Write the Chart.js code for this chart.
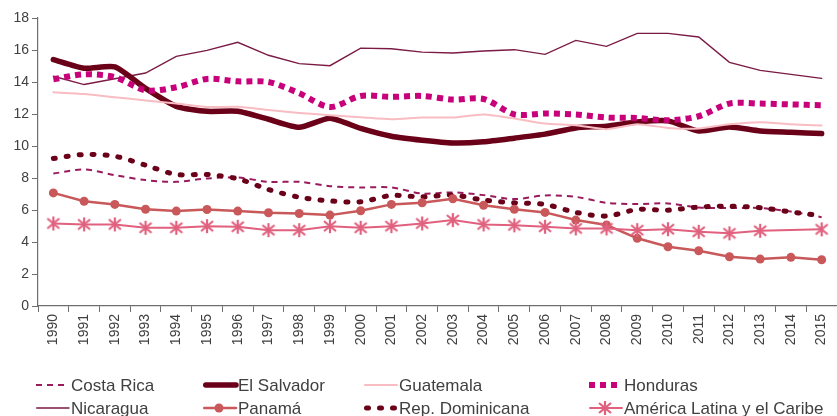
<!DOCTYPE html>
<html>
<head>
<meta charset="utf-8">
<script src="https://cdn.jsdelivr.net/npm/chart.js@4.4.1/dist/chart.umd.min.js"></script>
<style>
  html, body { margin: 0; padding: 0; background: #fff; overflow: hidden; }
  #wrap { width: 837px; height: 416px; position: relative; }
  canvas { display: block; }
</style>
</head>
<body>
<div id="wrap"><canvas id="tasa"></canvas></div>
<script>
// Years on the x axis
var years = ['1990','1991','1992','1993','1994','1995','1996','1997','1998','1999','2000','2001','2002',
             '2003','2004','2005','2006','2007','2008','2009','2010','2011','2012','2013','2014','2015'];

// Series values
var costaRica     = [8.28, 8.53, 8.18, 7.87, 7.76, 7.97, 8.03, 7.76, 7.76, 7.49, 7.41, 7.41, 7.03, 7.10, 6.93, 6.68, 6.91, 6.82, 6.45, 6.37, 6.41, 6.16, 6.12, 6.12, 5.90, 5.55];
var elSalvador    = [15.4, 14.86, 14.94, 13.6, 12.48, 12.17, 12.17, 11.67, 11.17, 11.73, 11.1, 10.61, 10.36, 10.19, 10.26, 10.49, 10.74, 11.13, 11.24, 11.5, 11.57, 10.94, 11.19, 10.94, 10.86, 10.78];
var guatemala     = [13.36, 13.25, 13.05, 12.85, 12.65, 12.44, 12.45, 12.25, 12.07, 11.92, 11.8, 11.67, 11.78, 11.78, 11.97, 11.72, 11.4, 11.3, 11.05, 11.36, 11.13, 11.09, 11.36, 11.49, 11.36, 11.28];
var honduras      = [14.17, 14.48, 14.3, 13.48, 13.67, 14.19, 14.04, 14.0, 13.3, 12.44, 13.13, 13.07, 13.13, 12.9, 12.94, 11.98, 12.03, 11.97, 11.78, 11.75, 11.61, 11.86, 12.65, 12.65, 12.6, 12.55];
var nicaragua     = [14.36, 13.84, 14.2, 14.56, 15.6, 15.98, 16.48, 15.67, 15.15, 15.02, 16.12, 16.08, 15.87, 15.81, 15.94, 16.02, 15.73, 16.6, 16.23, 17.04, 17.04, 16.81, 15.23, 14.73, 14.48, 14.23];
var panama        = [7.07, 6.55, 6.35, 6.05, 5.93, 6.03, 5.93, 5.83, 5.78, 5.68, 5.95, 6.35, 6.45, 6.7, 6.3, 6.05, 5.85, 5.37, 5.06, 4.23, 3.7, 3.45, 3.08, 2.93, 3.04, 2.89];
var repDominicana = [9.22, 9.47, 9.36, 8.8, 8.22, 8.22, 7.95, 7.28, 6.8, 6.57, 6.51, 6.91, 6.82, 6.93, 6.62, 6.45, 6.35, 5.85, 5.62, 6.03, 5.99, 6.18, 6.24, 6.14, 5.88, 5.64];
var americaLatina = [5.16, 5.1, 5.1, 4.89, 4.89, 4.99, 4.95, 4.74, 4.74, 4.99, 4.89, 4.99, 5.16, 5.37, 5.1, 5.04, 4.95, 4.85, 4.85, 4.74, 4.8, 4.64, 4.54, 4.7, null, 4.79];

var yTicks = [0, 2, 4, 6, 8, 10, 12, 14, 16, 18];

var textColor = '#404040';
var axisColor = '#6f6f6f';
var font = 'Liberation Sans, Arial, sans-serif';

// asterisk marker (vertical bar + X), like the spreadsheet's '*' marker
function makeAsterisk(color) {
    var c = document.createElement('canvas');
    c.width = 16; c.height = 16;
    var g = c.getContext('2d');
    g.strokeStyle = color;
    g.lineWidth = 2.2;
    g.beginPath();
    g.moveTo(8, 1); g.lineTo(8, 15);
    g.moveTo(2, 3); g.lineTo(14, 13);
    g.moveTo(14, 3); g.lineTo(2, 13);
    g.stroke();
    return c;
}
var asterisk = makeAsterisk('#e0607e');

function ds(label, data, color, width, dash, cap, tension, extra) {
    var d = {
        label: label, data: data, borderColor: color, backgroundColor: color,
        borderWidth: width, borderDash: dash, borderCapStyle: cap, tension: tension,
        pointRadius: 0, spanGaps: true
    };
    for (var k in extra) d[k] = extra[k];
    return d;
}

var datasets = [
    ds('Costa Rica', costaRica, '#9a1b5c', 2, [6, 5], 'butt', 0.3, {order: 3}),
    ds('El Salvador', elSalvador, '#6b0019', 5.5, [], 'round', 0.2, {order: 5}),
    ds('Guatemala', guatemala, '#f8bcc3', 2, [], 'round', 0.2, {order: 4}),
    ds('Honduras', honduras, '#c8007a', 6, [6, 5], 'butt', 0.3, {order: 2}),
    ds('Nicaragua', nicaragua, '#7a1a45', 1.4, [], 'round', 0, {order: 6}),
    ds('Panamá', panama, '#c8585a', 2.5, [], 'round', 0, {order: 1, pointRadius: 4.5, pointStyle: 'circle', pointBorderWidth: 0}),
    ds('Rep. Dominicana', repDominicana, '#6b0019', 5, [2, 11], 'round', 0.3, {order: 2}),
    ds('América Latina y el Caribe', americaLatina, '#e0607e', 2, [], 'round', 0, {order: 0, pointRadius: 8, pointStyle: asterisk})
];

// legend drawn below the axis in a 4 x 2 grid
var legendCols = [36, 203, 364, 589];
var legendRows = [385, 408];
var gridLegend = {
    id: 'gridLegend',
    afterDraw: function(chart) {
        var ctx = chart.ctx;
        chart.data.datasets.forEach(function(d, i) {
            var x = legendCols[i % 4], y = legendRows[Math.floor(i / 4)];
            ctx.save();
            ctx.strokeStyle = d.borderColor;
            ctx.lineWidth = d.borderWidth;
            ctx.setLineDash(d.borderDash);
            ctx.lineCap = d.borderCapStyle;
            ctx.beginPath();
            ctx.moveTo(x + (d.borderCapStyle === 'round' ? d.borderWidth / 2 : 0), y);
            ctx.lineTo(x + 33, y);
            ctx.stroke();
            ctx.setLineDash([]);
            if (d.pointStyle === 'circle') {
                ctx.fillStyle = d.borderColor;
                ctx.beginPath();
                ctx.arc(x + 16, y, 4.5, 0, Math.PI * 2);
                ctx.fill();
            } else if (d.pointStyle && d.pointStyle.getContext) {
                ctx.drawImage(d.pointStyle, x + 8, y - 8);
            }
            ctx.fillStyle = textColor;
            ctx.font = '17px ' + font;
            ctx.textBaseline = 'middle';
            ctx.fillText(d.label, x + 35, y + 1);
            ctx.restore();
        });
    }
};

var ctx = document.getElementById('tasa').getContext('2d');
var chart = new Chart(ctx, {
    type: 'line',
    data: { labels: years, datasets: datasets },
    plugins: [gridLegend],
    options: {
        responsive: true,
        maintainAspectRatio: false,
        animation: false,
        layout: { autoPadding: false, padding: { top: 18, right: 0, bottom: 70, left: 0 } },
        plugins: { legend: { display: false }, tooltip: { enabled: false } },
        scales: {
            x: {
                offset: true,
                afterFit: function(s) { s.height = 40; s.paddingLeft = 0; s.paddingRight = 0; },
                border: { color: axisColor, width: 1.2 },
                grid: { display: true, drawOnChartArea: false, drawTicks: true, tickLength: 6, color: axisColor, offset: true },
                ticks: {
                    color: textColor, font: { family: font, size: 14 },
                    minRotation: 90, maxRotation: 90, autoSkip: false, padding: 2
                }
            },
            y: {
                min: 0, max: 18,
                afterFit: function(s) { s.width = 38; s.paddingTop = 0; s.paddingBottom = 0; },
                afterBuildTicks: function(s) { s.ticks = yTicks.map(function(v) { return {value: v}; }); },
                border: { color: axisColor, width: 1.2 },
                grid: { display: true, drawOnChartArea: false, drawTicks: true, tickLength: 6, color: axisColor },
                ticks: { color: textColor, font: { family: font, size: 14 }, padding: 3 }
            }
        }
    }
});
</script>
</body>
</html>
